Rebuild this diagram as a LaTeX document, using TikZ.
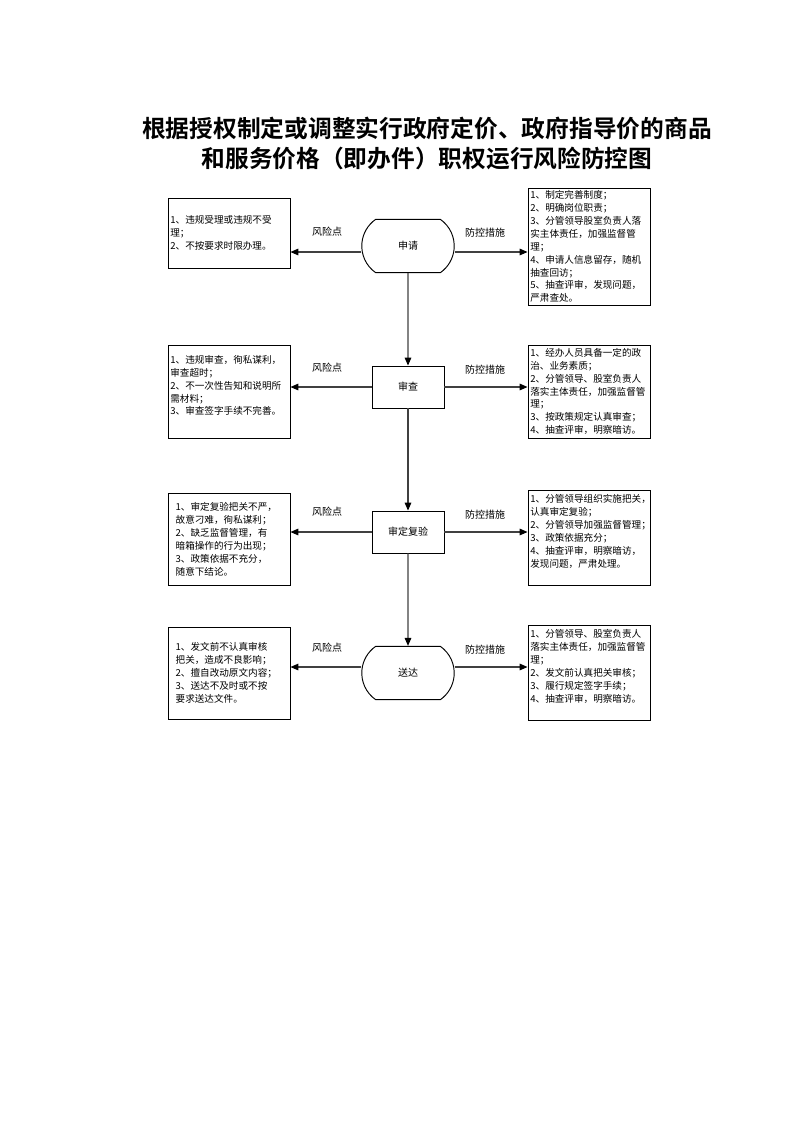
\documentclass[tikz,border=0pt]{standalone}
\usepackage{fontspec}
\setmainfont{Noto Sans CJK SC}[BoldFont={Noto Sans CJK SC Bold}]
\usetikzlibrary{arrows.meta,shapes.misc}

\begin{document}
\begin{tikzpicture}[x=0.75pt,y=-0.75pt,
  box/.style={draw=black,line width=0.7pt,minimum width=91.5pt,text width=88pt,inner xsep=1.5pt,inner ysep=0pt,align=left,font=\fontsize{7.2}{9.7}\selectfont},
  narrowbox/.style={box,text width=80pt},
  term/.style={draw=black,line width=0.7pt,rounded rectangle,rounded rectangle arc length=110,minimum width=76pt,minimum height=40pt,font=\fontsize{7.5}{9}\selectfont},
  proc/.style={draw=black,line width=0.7pt,rectangle,minimum width=54pt,minimum height=31.5pt,font=\fontsize{7.5}{9}\selectfont},
  lbl/.style={font=\fontsize{7.5}{9}\selectfont,inner sep=0pt},
  arr/.style={draw=black!75,line width=0.8pt,-{Triangle[length=6pt,width=5pt,color=black]}}]
\useasboundingbox (0,0) rectangle (793,1122);
\node[align=center,font=\fontsize{17.8}{22.5}\selectfont\bfseries] (title) at (427,143) {根据授权制定或调整实行政府定价、政府指导价的商品\\和服务价格（即办件）职权运行风险防控图};
\node[term] (sq) at (408,246) {申请};
\node[proc] (sc) at (408,387) {审查};
\node[proc] (sdfy) at (408,532) {审定复验};
\node[term] (sd) at (408,673) {送达};
\node[box,minimum height=52.5pt] (fx1) at (229,233) {1、违规受理或违规不受\\理；\\2、不按要求时限办理。};
\node[box,minimum height=87.75pt] (fk1) at (589,246.5) {1、制定完善制度；\\2、明确岗位职责；\\3、分管领导股室负责人落\\实主体责任，加强监督管\\理；\\4、申请人信息留存，随机\\抽查回访；\\5、抽查评审，发现问题，\\严肃查处。};
\node[box,minimum height=69.75pt] (fx2) at (229,391.5) {1、违规审查，徇私谋利，\\审查超时；\\2、不一次性告知和说明所\\需材料；\\3、审查签字手续不完善。\\ \mbox{}};
\node[box,minimum height=69.75pt] (fk2) at (589,391.5) {1、经办人员具备一定的政\\治、业务素质；\\2、分管领导、股室负责人\\落实主体责任，加强监督管\\理；\\3、按政策规定认真审查；\\4、抽查评审，明察暗访。};
\node[narrowbox,minimum height=69pt] (fx3) at (229,539) {1、审定复验把关不严，\\故意刁难，徇私谋利；\\2、缺乏监督管理，有\\暗箱操作的行为出现；\\3、政策依据不充分，\\随意下结论。};
\node[box,minimum height=71.25pt] (fk3) at (589,537.5) {1、分管领导组织实施把关，\\认真审定复验；\\2、分管领导加强监督管理；\\3、政策依据充分；\\4、抽查评审，明察暗访，\\发现问题，严肃处理。\\ \mbox{}};
\node[narrowbox,minimum height=69pt] (fx4) at (229,673) {1、发文前不认真审核\\把关，造成不良影响；\\2、擅自改动原文内容；\\3、送达不及时或不按\\要求送达文件。};
\node[box,minimum height=71.25pt] (fk4) at (589,672.5) {1、分管领导、股室负责人\\落实主体责任，加强监督管\\理；\\2、发文前认真把关审核；\\3、履行规定签字手续；\\4、抽查评审，明察暗访。\\ \mbox{}};
\node[lbl] (fxl1) at (327,232) {风险点};
\node[lbl] (fkl1) at (485,233) {防控措施};
\node[lbl] (fxl2) at (327,368) {风险点};
\node[lbl] (fkl2) at (485,370) {防控措施};
\node[lbl] (fxl3) at (327,512) {风险点};
\node[lbl] (fkl3) at (485,515) {防控措施};
\node[lbl] (fxl4) at (327,648) {风险点};
\node[lbl] (fkl4) at (485,650) {防控措施};
\draw[arr] (sq) -- (sc);
\draw[arr] (sc) -- (sdfy);
\draw[arr] (sdfy) -- (sd);
\draw[arr] ([yshift=-4.5pt]sq.west) -- ([yshift=-4.5pt]sq.west -| fx1.east);
\draw[arr] ([yshift=-4.5pt]sq.east) -- ([yshift=-4.5pt]sq.east -| fk1.west);
\draw[arr] (sc.west) -- (sc.west -| fx2.east);
\draw[arr] (sc.east) -- (sc.east -| fk2.west);
\draw[arr] (sdfy.west) -- (sdfy.west -| fx3.east);
\draw[arr] (sdfy.east) -- (sdfy.east -| fk3.west);
\draw[arr] ([yshift=4.5pt]sd.west) -- ([yshift=4.5pt]sd.west -| fx4.east);
\draw[arr] ([yshift=4.5pt]sd.east) -- ([yshift=4.5pt]sd.east -| fk4.west);
\end{tikzpicture}
\end{document}
